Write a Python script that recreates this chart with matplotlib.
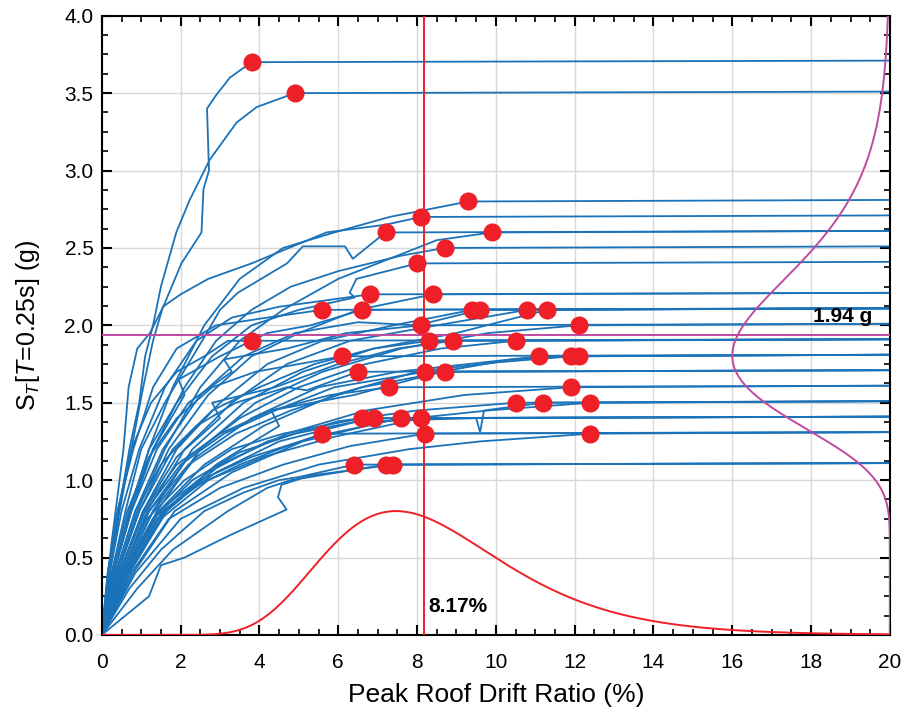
import numpy as np
import matplotlib
matplotlib.use("Agg")
import matplotlib.pyplot as plt
from matplotlib.ticker import MultipleLocator, FormatStrFormatter

plt.rcParams['font.family'] = ['Liberation Sans', 'DejaVu Sans']
plt.rcParams['mathtext.fontset'] = 'custom'
plt.rcParams['mathtext.rm'] = 'Liberation Sans'
plt.rcParams['mathtext.it'] = 'Liberation Sans:italic'

# collapse points (red dots): peak roof drift (%) and Sa (g)
collapse_drift = [3.8, 4.9, 9.3, 8.1, 7.2, 9.9, 8.7, 8.0, 6.8, 8.4, 5.6, 6.6, 9.4, 9.6, 10.8,
                  11.3, 8.1, 12.1, 3.8, 8.3, 8.9, 10.5, 6.1, 11.1, 11.9, 12.1, 6.5, 8.2, 8.7, 7.3,
                  11.9, 10.5, 11.2, 12.4, 6.6, 6.9, 7.6, 8.1, 5.6, 8.2, 12.4, 6.4, 7.2, 7.4]
collapse_sa = [3.7, 3.5, 2.8, 2.7, 2.6, 2.6, 2.5, 2.4, 2.2, 2.2, 2.1, 2.1, 2.1, 2.1, 2.1,
               2.1, 2.0, 2.0, 1.9, 1.9, 1.9, 1.9, 1.8, 1.8, 1.8, 1.8, 1.7, 1.7, 1.7, 1.6,
               1.6, 1.5, 1.5, 1.5, 1.4, 1.4, 1.4, 1.4, 1.3, 1.3, 1.3, 1.1, 1.1, 1.1]

# IDA paths (drift %, Sa g) of each record up to its collapse point
ida_paths = [
    [(0, 0), (0.12, 0.3), (0.25, 0.6), (0.4, 0.9), (0.55, 1.2), (0.68, 1.6), (0.9, 1.85), (1.22, 1.95),
     (1.56, 2.12), (2.02, 2.4), (2.53, 2.6), (2.58, 2.88), (2.72, 3.0), (2.67, 3.4), (2.91, 3.49), (3.25, 3.6)],
    [(0, 0), (0.15, 0.3), (0.3, 0.6), (0.5, 0.9), (0.7, 1.2), (0.95, 1.5), (1.1, 1.8), (1.3, 2.0),
     (1.5, 2.25), (1.89, 2.6), (2.23, 2.81), (2.74, 3.07), (3.42, 3.31), (3.93, 3.41)],
    [(0, 0), (0.3, 0.4), (0.7, 0.8), (1.2, 1.2), (1.8, 1.6), (2.6, 2.0), (3.5, 2.3), (4.6, 2.5),
     (5.9, 2.6), (7.3, 2.7)],
    [(0, 0), (0.2, 0.4), (0.45, 0.8), (0.75, 1.2), (1.05, 1.6), (1.3, 1.9), (1.55, 2.12), (2.0, 2.2),
     (2.7, 2.3), (3.8, 2.4), (5.7, 2.6), (7.2, 2.65)],
    [(0, 0), (0.25, 0.4), (0.6, 0.8), (1.0, 1.2), (1.6, 1.5), (2.57, 1.91), (3.0, 2.1), (3.45, 2.21),
     (4.7, 2.4), (5.1, 2.51), (6.17, 2.51), (6.37, 2.43)],
    [(0, 0), (0.4, 0.4), (0.9, 0.8), (1.6, 1.2), (2.5, 1.6), (3.5, 1.9), (4.6, 2.1), (6.0, 2.3),
     (7.5, 2.45), (8.5, 2.55)],
    [(0, 0), (0.3, 0.4), (0.75, 0.8), (1.3, 1.2), (2.1, 1.6), (2.9, 1.9), (3.8, 2.1), (4.8, 2.25),
     (6.0, 2.35), (7.6, 2.45)],
    [(0, 0), (0.3, 0.4), (0.7, 0.8), (1.2, 1.2), (1.9, 1.5), (2.8, 1.8), (3.8, 2.0), (5.0, 2.1),
     (6.42, 2.18), (6.29, 2.21), (6.46, 2.3)],
    [(0, 0), (0.2, 0.4), (0.5, 0.8), (0.95, 1.2), (1.6, 1.6), (2.4, 1.9), (3.3, 2.05), (4.5, 2.12)],
    [(0, 0), (0.4, 0.4), (0.95, 0.8), (1.7, 1.2), (2.7, 1.55), (3.8, 1.8), (5.0, 1.95), (6.5, 2.1)],
    [(0, 0), (0.15, 0.4), (0.4, 0.8), (0.8, 1.2), (1.3, 1.6), (1.9, 1.85), (2.9, 2.0), (4.2, 2.05)],
    [(0, 0), (0.3, 0.4), (0.7, 0.8), (1.3, 1.2), (2.1, 1.55), (1.95, 1.65), (3.0, 1.8), (4.2, 1.95),
     (5.3, 2.0)],
    [(0, 0), (0.45, 0.4), (1.05, 0.8), (1.9, 1.2), (3.0, 1.5), (4.2, 1.75), (5.6, 1.9), (7.4, 2.0)],
    [(0, 0), (0.35, 0.4), (0.85, 0.8), (1.55, 1.2), (2.5, 1.55), (3.6, 1.8), (4.9, 1.95), (6.5, 2.02),
     (8.0, 2.0)],
    [(0, 0), (0.5, 0.4), (1.15, 0.8), (2.1, 1.2), (3.3, 1.5), (4.7, 1.75), (6.3, 1.9), (8.5, 2.0)],
    [(0, 0), (0.55, 0.4), (1.3, 0.8), (2.3, 1.2), (3.6, 1.5), (5.1, 1.7), (6.9, 1.85), (9.0, 1.95)],
    [(0, 0), (0.3, 0.4), (0.75, 0.8), (1.4, 1.2), (2.2, 1.5), (3.3, 1.7), (3.1, 1.78), (4.7, 1.85),
     (6.2, 1.95)],
    [(0, 0), (0.6, 0.4), (1.4, 0.8), (2.5, 1.2), (3.9, 1.5), (5.6, 1.7), (7.6, 1.85), (9.8, 1.95)],
    [(0, 0), (0.15, 0.4), (0.4, 0.8), (0.75, 1.2), (1.25, 1.5), (1.9, 1.7), (2.6, 1.8), (3.2, 1.9)],
    [(0, 0), (0.4, 0.4), (0.95, 0.8), (1.8, 1.2), (2.8, 1.45), (4.0, 1.6), (5.4, 1.75), (6.9, 1.85)],
    [(0, 0), (0.45, 0.4), (1.05, 0.8), (1.9, 1.15), (3.0, 1.4), (2.8, 1.5), (4.4, 1.6), (6.0, 1.75),
     (7.5, 1.85)],
    [(0, 0), (0.5, 0.4), (1.2, 0.8), (2.2, 1.15), (3.5, 1.4), (5.0, 1.6), (6.7, 1.75), (8.6, 1.85)],
    [(0, 0), (0.25, 0.4), (0.65, 0.8), (1.2, 1.15), (1.9, 1.4), (2.8, 1.6), (3.9, 1.7), (5.0, 1.75)],
    [(0, 0), (0.55, 0.4), (1.3, 0.8), (2.4, 1.15), (3.8, 1.4), (5.5, 1.6), (7.5, 1.7), (9.3, 1.75)],
    [(0, 0), (0.6, 0.4), (1.45, 0.8), (2.6, 1.1), (4.1, 1.35), (5.9, 1.55), (8.0, 1.7), (10.0, 1.76)],
    [(0, 0), (0.7, 0.4), (1.6, 0.8), (2.9, 1.1), (4.5, 1.35), (4.3, 1.45), (6.4, 1.55), (8.6, 1.7),
     (10.4, 1.78)],
    [(0, 0), (0.35, 0.4), (0.85, 0.8), (1.5, 1.1), (2.4, 1.35), (3.4, 1.5), (4.7, 1.6), (5.2, 1.58)],
    [(0, 0), (0.45, 0.4), (1.1, 0.8), (2.0, 1.1), (3.1, 1.3), (4.4, 1.45), (5.9, 1.6)],
    [(0, 0), (0.5, 0.4), (1.2, 0.8), (2.2, 1.1), (3.4, 1.3), (4.8, 1.45), (6.6, 1.6)],
    [(0, 0), (0.45, 0.4), (1.05, 0.8), (1.9, 1.1), (3.0, 1.3), (4.3, 1.45), (5.8, 1.55)],
    [(0, 0), (0.7, 0.4), (1.65, 0.8), (3.0, 1.1), (4.7, 1.3), (6.7, 1.45), (9.2, 1.55)],
    [(0, 0), (0.6, 0.4), (1.45, 0.8), (2.7, 1.05), (4.2, 1.25), (6.0, 1.38), (8.0, 1.45)],
    [(0, 0), (0.65, 0.4), (1.55, 0.8), (2.9, 1.05), (4.5, 1.25), (6.5, 1.38), (9.5, 1.4), (9.6, 1.31),
     (9.7, 1.45)],
    [(0, 0), (0.8, 0.4), (1.85, 0.8), (3.3, 1.05), (5.1, 1.25), (7.2, 1.38), (9.8, 1.45)],
    [(0, 0), (0.5, 0.4), (1.15, 0.75), (2.1, 1.0), (3.3, 1.2), (4.6, 1.3), (5.6, 1.35)],
    [(0, 0), (0.55, 0.4), (1.3, 0.75), (2.3, 1.0), (3.5, 1.18), (4.9, 1.3)],
    [(0, 0), (0.6, 0.4), (1.4, 0.75), (2.5, 1.0), (3.8, 1.15), (5.4, 1.28)],
    [(0, 0), (0.65, 0.4), (1.5, 0.75), (2.7, 1.0), (4.1, 1.15), (5.9, 1.28)],
    [(0, 0), (0.55, 0.4), (1.3, 0.75), (2.3, 0.95), (3.5, 1.1), (4.5, 1.2)],
    [(0, 0), (0.75, 0.4), (1.7, 0.75), (3.0, 0.95), (4.6, 1.1), (6.3, 1.22)],
    [(0, 0), (0.85, 0.4), (2.0, 0.75), (3.6, 0.95), (5.5, 1.1), (7.8, 1.2), (9.6, 1.25)],
    [(0, 0), (0.7, 0.3), (1.5, 0.55), (2.6, 0.8), (3.6, 0.92), (4.5, 1.0), (5.0, 1.02)],
    [(0, 0), (0.9, 0.3), (1.8, 0.55), (3.2, 0.8), (4.2, 0.95), (4.8, 1.0)],
    [(0, 0), (1.2, 0.25), (1.5, 0.45), (2.1, 0.5), (3.3, 0.65), (4.69, 0.81), (4.47, 0.89), (4.56, 0.97),
     (5.3, 1.03)],
]

# fitted lognormal collapse fragilities
drift_median, drift_beta = 8.17, 0.30
sa_median, sa_beta = 1.94, 0.27

blue = '#1a72b8'
red = '#ee1f26'
magenta = '#bf4aa3'

fig = plt.figure(figsize=(9.09, 7.15), dpi=100)
ax = fig.add_axes([0.112, 0.112, 0.867, 0.866])

for path, d_c, s_c in zip(ida_paths, collapse_drift, collapse_sa):
    xs = [p[0] for p in path] + [d_c, 20.0]
    ys = [p[1] for p in path] + [s_c, s_c + 0.01]
    ax.plot(xs, ys, color=blue, lw=1.3, zorder=2)

ax.plot(collapse_drift, collapse_sa, 'o', color=red, ms=12, mec=red, zorder=4)

# drift pdf along the bottom
xd = np.linspace(0.01, 20, 500)
fd = np.exp(-0.5 * (np.log(xd / drift_median) / drift_beta) ** 2) / xd
ax.plot(xd, 0.8 * fd / fd.max(), color=red, lw=1.4, zorder=3)

# sa pdf along the right edge
ys_ = np.linspace(0.01, 4, 500)
fs = np.exp(-0.5 * (np.log(ys_ / sa_median) / sa_beta) ** 2) / ys_
ax.plot(20 - 4.0 * fs / fs.max(), ys_, color=magenta, lw=1.4, zorder=3)

ax.axvline(drift_median, color=red, lw=1.4, zorder=3)
ax.axhline(sa_median, color=magenta, lw=1.4, zorder=3)

ax.text(8.3, 0.15, '8.17%', fontsize=15, fontweight='bold')
ax.text(18.05, 2.02, '1.94 g', fontsize=15, fontweight='bold')

ax.set_xlim(0, 20)
ax.set_ylim(0, 4)
ax.xaxis.set_major_locator(MultipleLocator(2))
ax.xaxis.set_minor_locator(MultipleLocator(0.5))
ax.yaxis.set_major_locator(MultipleLocator(0.5))
ax.yaxis.set_minor_locator(MultipleLocator(0.125))
ax.yaxis.set_major_formatter(FormatStrFormatter('%.1f'))
ax.tick_params(which='both', direction='in', top=True, right=True, labelsize=15)
ax.tick_params(which='major', length=7, width=1.5)
ax.tick_params(which='minor', length=4, width=1.2)
ax.tick_params(axis='x', which='major', pad=13)
ax.tick_params(axis='y', which='major', pad=6)
for s in ax.spines.values():
    s.set_linewidth(1.5)
ax.grid(True, which='major', color='#d8d8d8', lw=1.0, zorder=0)
ax.set_axisbelow(True)

ax.set_xlabel('Peak Roof Drift Ratio (%)', fontsize=19, labelpad=8)
ax.set_ylabel(r'S$_{T}$[$T$=0.25s] (g)', fontsize=18, labelpad=16)

fig.savefig('out.png', dpi=100)
